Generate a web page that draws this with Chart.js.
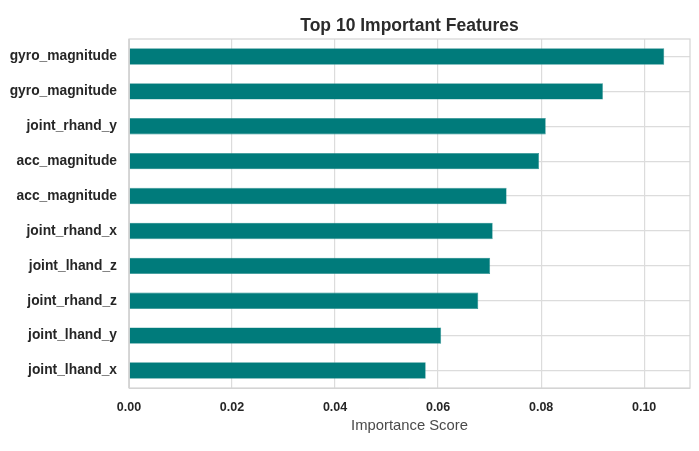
<!DOCTYPE html>
<html lang="en">
<head>
    <meta charset="UTF-8">
    <title>Top 10 Important Features</title>
    <script src="https://cdn.jsdelivr.net/npm/chart.js@4.4.1/dist/chart.umd.min.js"></script>
    <style>
        html, body {
            margin: 0;
            padding: 0;
            background: #ffffff;
        }
        .chart-box {
            width: 699px;
            height: 451px;
            position: relative;
        }
    </style>
</head>
<body>
    <div class="chart-box">
        <canvas id="featChart"></canvas>
    </div>

    <script>
        // feature names, top to bottom
        const features = ['gyro_magnitude', 'gyro_magnitude', 'joint_rhand_y', 'acc_magnitude', 'acc_magnitude',
                          'joint_rhand_x', 'joint_lhand_z', 'joint_rhand_z', 'joint_lhand_y', 'joint_lhand_x'];
        // importance scores
        const scores = [0.1039, 0.0920, 0.0809, 0.0796, 0.0733, 0.0706, 0.0701, 0.0678, 0.0606, 0.0576];
        const xMax = 0.1089;
        const xStep = 0.02;

        const fontFam = '"Liberation Sans", Arial, Helvetica, sans-serif';
        const gridColor = '#dcdcdc';

        // draws the grey frame round the plot area (seaborn-ish look)
        const frame = {
            id: 'frame',
            afterDatasetsDraw(chart) {
                const a = chart.chartArea;
                const ctx = chart.ctx;
                ctx.save();
                ctx.strokeStyle = '#d4d4d4';
                ctx.lineWidth = 1.2;
                ctx.strokeRect(a.left, a.top, a.right - a.left, a.bottom - a.top);
                ctx.restore();
            }
        };

        new Chart(document.getElementById('featChart'), {
            type: 'bar',
            data: {
                labels: features,
                datasets: [{
                    data: scores,
                    backgroundColor: '#007b7b',
                    borderColor: '#2a9090',
                    borderWidth: 0.6,
                    barPercentage: 0.47,
                    categoryPercentage: 1
                }]
            },
            options: {
                indexAxis: 'y',
                responsive: true,
                maintainAspectRatio: false,
                animation: false,
                layout: { padding: { left: 0, right: 9, top: 0, bottom: 0 } },
                plugins: {
                    legend: { display: false },
                    tooltip: { enabled: false },
                    title: {
                        display: true,
                        text: 'Top 10 Important Features',
                        fullSize: false,
                        color: '#2b2b2b',
                        font: { family: fontFam, size: 17.5, weight: 'bold' },
                        padding: { top: 16, bottom: 2 }
                    }
                },
                scales: {
                    x: {
                        min: 0,
                        max: xMax,
                        afterFit(scale) { scale.height = 63; },
                        afterBuildTicks(scale) {
                            scale.ticks = [0, 1, 2, 3, 4, 5].map(i => ({ value: i * xStep }));
                        },
                        grid: { color: gridColor, lineWidth: 1.2, drawTicks: false },
                        border: { color: '#d4d4d4' },
                        ticks: {
                            padding: 12,
                            color: '#262626',
                            font: { family: fontFam, size: 12.5, weight: 'bold' },
                            callback: v => v.toFixed(2)
                        },
                        title: {
                            display: true,
                            text: 'Importance Score',
                            color: '#4a4a4a',
                            font: { family: fontFam, size: 14.8 },
                            padding: { top: 2, bottom: 16 }
                        }
                    },
                    y: {
                        afterFit(scale) { scale.width = 129; },
                        grid: { color: gridColor, lineWidth: 1.2, drawTicks: false, offset: false },
                        border: { color: '#d4d4d4' },
                        ticks: {
                            padding: 12,
                            color: '#262626',
                            font: { family: fontFam, size: 13.8, weight: 'bold' }
                        }
                    }
                }
            },
            plugins: [frame]
        });
    </script>
</body>
</html>
